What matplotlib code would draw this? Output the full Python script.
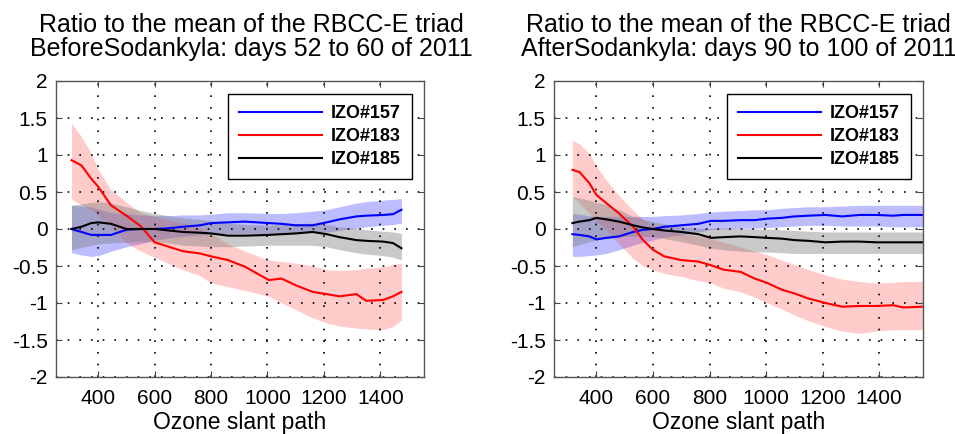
import matplotlib
matplotlib.use("Agg")
import matplotlib.pyplot as plt

plt.rcParams['font.family'] = ['Liberation Sans', 'DejaVu Sans']

titles = ["Ratio to the mean of the RBCC-E triad\nBeforeSodankyla: days 52 to 60 of 2011",
          "Ratio to the mean of the RBCC-E triad\nAfterSodankyla: days 90 to 100 of 2011"]
labels = ["IZO#157", "IZO#183", "IZO#185"]
yticks = [-2, -1.5, -1, -0.5, 0, 0.5, 1, 1.5, 2]
ytick_labels = ["-2", "-1.5", "-1", "-0.5", "0", "0.5", "1", "1.5", "2"]
xticks = [400, 600, 800, 1000, 1200, 1400]

# ---- before Sodankyla ----
before_x = [305, 340, 375, 400, 445, 500, 550, 600, 650, 700, 760, 800, 860,
            920, 1005, 1050, 1100, 1160, 1210, 1255, 1315, 1350, 1410, 1445, 1475]
before_157 = [0.0, -0.04, -0.08, -0.08, -0.08, -0.01, 0.0, 0.0, 0.01, 0.03, 0.05, 0.08, 0.09,
              0.10, 0.08, 0.07, 0.05, 0.05, 0.09, 0.13, 0.17, 0.18, 0.19, 0.20, 0.26]
before_157_hi = [0.32, 0.31, 0.30, 0.27, 0.22, 0.21, 0.19, 0.18, 0.18, 0.19, 0.19, 0.20, 0.22,
                 0.22, 0.21, 0.21, 0.22, 0.24, 0.26, 0.30, 0.35, 0.37, 0.39, 0.40, 0.41]
before_157_lo = [-0.32, -0.35, -0.37, -0.36, -0.30, -0.24, -0.20, -0.15, -0.12, -0.10, -0.08, -0.07, -0.06,
                 -0.06, -0.06, -0.06, -0.05, -0.05, -0.04, -0.02, 0.01, 0.03, 0.05, 0.06, 0.08]
before_183 = [0.93, 0.86, 0.68, 0.57, 0.32, 0.18, 0.04, -0.18, -0.24, -0.30, -0.33, -0.37, -0.42,
              -0.51, -0.69, -0.67, -0.76, -0.85, -0.88, -0.91, -0.88, -0.97, -0.96, -0.91, -0.85]
before_183_hi = [1.43, 1.25, 1.02, 0.80, 0.53, 0.36, 0.22, 0.17, 0.12, 0.08, 0.02, -0.06, -0.20,
                 -0.30, -0.42, -0.44, -0.46, -0.50, -0.55, -0.56, -0.55, -0.53, -0.51, -0.48, -0.46]
before_183_lo = [0.40, 0.33, 0.26, 0.18, 0.03, -0.19, -0.30, -0.38, -0.47, -0.55, -0.63, -0.73, -0.78,
                 -0.83, -0.91, -1.00, -1.09, -1.20, -1.27, -1.31, -1.34, -1.35, -1.36, -1.32, -1.23]
before_185 = [0.0, 0.03, 0.08, 0.09, 0.07, 0.0, 0.0, 0.0, -0.02, -0.04, -0.05, -0.06, -0.09,
              -0.09, -0.08, -0.07, -0.06, -0.04, -0.07, -0.11, -0.15, -0.16, -0.17, -0.19, -0.26]
before_185_hi = [0.32, 0.34, 0.36, 0.37, 0.35, 0.30, 0.25, 0.21, 0.18, 0.15, 0.13, 0.11, 0.08,
                 0.06, 0.05, 0.06, 0.07, 0.08, 0.06, 0.03, 0.01, -0.01, -0.03, -0.04, -0.06]
before_185_lo = [-0.28, -0.25, -0.22, -0.20, -0.19, -0.18, -0.17, -0.17, -0.19, -0.22, -0.23, -0.24, -0.24,
                 -0.23, -0.22, -0.22, -0.22, -0.22, -0.24, -0.28, -0.32, -0.34, -0.36, -0.38, -0.42]

# ---- after Sodankyla ----
after_x = [315, 340, 375, 400, 435, 480, 530, 565, 600, 640, 700, 760, 805, 850,
           910, 960, 1005, 1055, 1100, 1150, 1210, 1270, 1330, 1390, 1450, 1485, 1555]
after_157 = [-0.07, -0.08, -0.10, -0.14, -0.12, -0.10, -0.04, -0.01, 0.0, 0.03, 0.05, 0.07, 0.11, 0.11,
             0.12, 0.12, 0.14, 0.15, 0.17, 0.18, 0.19, 0.17, 0.19, 0.19, 0.18, 0.19, 0.19]
after_157_hi = [0.21, 0.20, 0.18, 0.17, 0.17, 0.17, 0.17, 0.17, 0.17, 0.18, 0.19, 0.21, 0.23, 0.24,
                0.25, 0.26, 0.26, 0.28, 0.29, 0.30, 0.30, 0.31, 0.32, 0.32, 0.32, 0.32, 0.32]
after_157_lo = [-0.37, -0.37, -0.36, -0.35, -0.33, -0.28, -0.22, -0.18, -0.15, -0.11, -0.08, -0.04, -0.01, 0.0,
                0.01, 0.01, 0.02, 0.03, 0.04, 0.05, 0.05, 0.04, 0.04, 0.04, 0.03, 0.03, 0.03]
after_183 = [0.80, 0.77, 0.62, 0.46, 0.35, 0.21, 0.03, -0.15, -0.28, -0.37, -0.42, -0.44, -0.49, -0.55,
             -0.58, -0.67, -0.73, -0.82, -0.87, -0.94, -1.00, -1.05, -1.04, -1.04, -1.03, -1.06, -1.05]
after_183_hi = [1.20, 1.15, 1.02, 0.85, 0.66, 0.45, 0.25, 0.13, 0.05, 0.0, -0.06, -0.10, -0.13, -0.18,
                -0.24, -0.30, -0.35, -0.42, -0.48, -0.55, -0.62, -0.68, -0.71, -0.73, -0.72, -0.71, -0.71]
after_183_lo = [0.44, 0.35, 0.21, 0.10, -0.01, -0.20, -0.40, -0.50, -0.55, -0.60, -0.64, -0.70, -0.73, -0.80,
                -0.85, -0.92, -1.00, -1.08, -1.16, -1.24, -1.32, -1.38, -1.41, -1.38, -1.36, -1.36, -1.36]
after_185 = [0.08, 0.10, 0.12, 0.15, 0.13, 0.10, 0.05, 0.02, 0.0, -0.02, -0.04, -0.07, -0.12, -0.11,
             -0.10, -0.11, -0.12, -0.13, -0.15, -0.16, -0.18, -0.17, -0.17, -0.18, -0.18, -0.18, -0.18]
after_185_hi = [0.44, 0.42, 0.39, 0.36, 0.33, 0.26, 0.17, 0.13, 0.10, 0.07, 0.03, 0.01, 0.01, 0.01,
                0.01, 0.0, 0.0, -0.01, -0.02, -0.03, -0.04, -0.04, -0.04, -0.04, -0.04, -0.04, -0.04]
after_185_lo = [-0.24, -0.21, -0.17, -0.15, -0.12, -0.10, -0.10, -0.10, -0.10, -0.13, -0.17, -0.22, -0.26, -0.28,
                -0.30, -0.31, -0.31, -0.32, -0.33, -0.33, -0.33, -0.33, -0.33, -0.33, -0.33, -0.33, -0.33]

line_colors = ['#0000ff', '#ff0000', '#000000']
band_colors = [('#3030ff', 0.32), ('#ff4040', 0.27), ('#808080', 0.42)]


def draw_panel(ax, x, series, title, title_x):
    # shaded bands first, then the lines on top
    for (mean, hi, lo), (bc, ba) in zip(series, band_colors):
        ax.fill_between(x, lo, hi, color=bc, alpha=ba, linewidth=0)
    for (mean, hi, lo), lc, lab in zip(series, line_colors, labels):
        ax.plot(x, mean, color=lc, linewidth=1.5, label=lab)

    ax.set_xlim(250, 1555)
    ax.set_ylim(-2, 2)
    ax.set_xticks(xticks)
    ax.set_yticks(yticks)
    ax.set_yticklabels(ytick_labels)
    ax.tick_params(direction='in', top=True, right=True, length=4,
                   labelsize=15, color='#444444', pad=6)
    ax.tick_params(axis='x', pad=9)
    ax.grid(True, color='black', linestyle=(0, (1, 6)), linewidth=1.2)
    for sp in ax.spines.values():
        sp.set_color('#555555')
        sp.set_linewidth(1.0)
    ax.set_xlabel('Ozone slant path', fontsize=16.5, labelpad=2)
    ax.set_title(title, fontsize=18, x=title_x, pad=18, linespacing=1.0)
    leg = ax.legend(loc='upper right', bbox_to_anchor=(0.967, 0.956), borderaxespad=0,
                    fancybox=False, framealpha=1, edgecolor='black', handlelength=4.6,
                    handletextpad=0.5, labelspacing=0.35, borderpad=0.6,
                    prop={'weight': 'bold', 'size': 13})
    leg.get_frame().set_linewidth(1.0)


fig = plt.figure(figsize=(9.55, 4.34), dpi=100)
ax1 = fig.add_axes([56 / 955, 57 / 434, 368 / 955, 296 / 434])
ax2 = fig.add_axes([554 / 955, 57 / 434, 369 / 955, 296 / 434])

draw_panel(ax1, before_x,
           [(before_157, before_157_hi, before_157_lo),
            (before_183, before_183_hi, before_183_lo),
            (before_185, before_185_hi, before_185_lo)],
           titles[0], 0.53)
draw_panel(ax2, after_x,
           [(after_157, after_157_hi, after_157_lo),
            (after_183, after_183_hi, after_183_lo),
            (after_185, after_185_hi, after_185_lo)],
           titles[1], 0.5)

fig.savefig('out.png', dpi=100)
